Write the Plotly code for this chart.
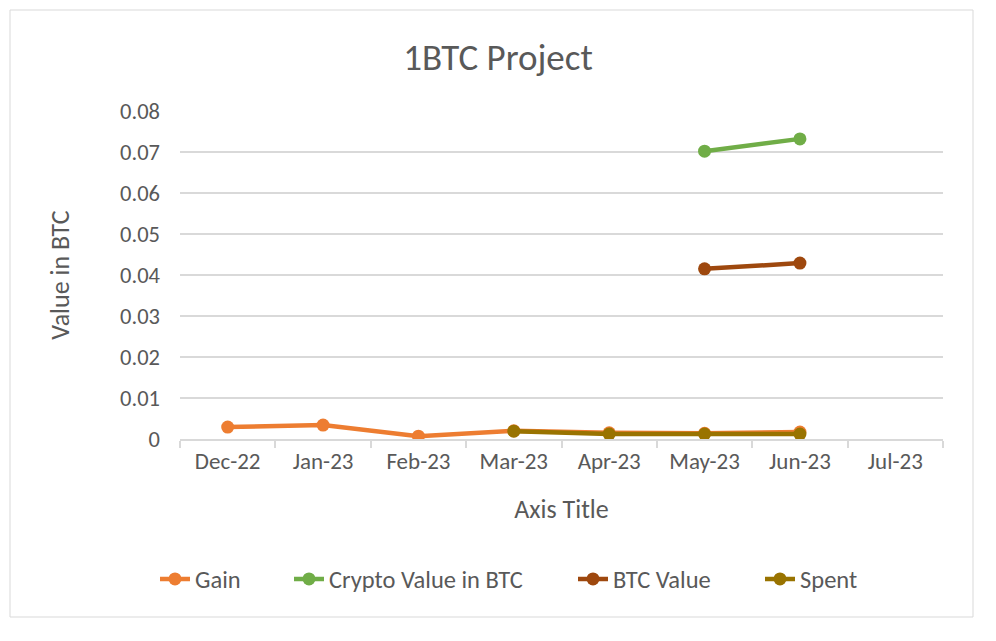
import plotly.graph_objects as go

months = ["Dec-22", "Jan-23", "Feb-23", "Mar-23", "Apr-23", "May-23", "Jun-23", "Jul-23"]
gain = [0.0029, 0.0034, 0.0007, 0.0020, 0.0015, 0.0014, 0.0017, None]
crypto = [None, None, None, None, None, 0.0702, 0.0732, None]
btc_value = [None, None, None, None, None, 0.0415, 0.0429, None]
spent = [None, None, None, 0.0019, 0.0012, 0.0012, 0.0012, None]

series = [
    ("Gain", gain, "#ED7D31"),
    ("Crypto Value in BTC", crypto, "#70AD47"),
    ("BTC Value", btc_value, "#9E480E"),
    ("Spent", spent, "#997300"),
]

font_family = "Carlito, Calibri, Lato, 'Open Sans', sans-serif"
grey = "#595959"

L, R, T, B = 180, 53, 111, 202
W, H = 996, 641
pw, ph = W - L - R, H - T - B

legend_px = [155, 289, 573, 760]  # left edge of each legend box in pixels

fig = go.Figure()
legends = {}
for i, (name, vals, color) in enumerate(series):
    lname = "legend" if i == 0 else f"legend{i+1}"
    fig.add_trace(go.Scatter(
        x=months, y=vals, name=name, mode="lines+markers",
        line=dict(color=color, width=4.5),
        marker=dict(color=color, size=13),
        connectgaps=False, legend=lname,
    ))
    legends[lname] = dict(orientation="h", x=(legend_px[i] - L) / pw, xanchor="left",
                          y=-(579 - 439) / ph, yanchor="middle",
                          font=dict(size=24.5, color=grey, family=font_family),
                          bgcolor="rgba(0,0,0,0)")

fig.update_layout(
    width=W, height=H,
    margin=dict(l=L, r=R, t=T, b=B),
    paper_bgcolor="white", plot_bgcolor="white",
    font=dict(family=font_family, color=grey, size=20),
    title=dict(text="1BTC Project", x=0.5, xanchor="center", y=1 - 57 / H, yanchor="middle",
               font=dict(size=37, color=grey)),
    showlegend=True,
    xaxis=dict(
        type="category", categoryorder="array", categoryarray=months,
        range=[-0.5, len(months) - 0.5],
        showgrid=False, showline=True, linecolor="#D9D9D9", linewidth=2,
        ticks="outside", tickson="boundaries", ticklen=7, tickcolor="#D9D9D9", tickwidth=2,
        tickfont=dict(size=23, color=grey),
        title=dict(text="Axis Title", font=dict(size=26, color=grey), standoff=26),
        zeroline=False,
    ),
    yaxis=dict(
        range=[0, 0.08], dtick=0.01, tickformat="~g",
        showgrid=True, gridcolor="#D9D9D9", gridwidth=1.5,
        showline=False, zeroline=False, ticks="",
        ticklabelstandoff=19,
        tickfont=dict(size=22.5, color=grey),
        title=dict(text="Value in BTC", font=dict(size=26, color=grey), standoff=42),
    ),
    shapes=[dict(type="rect", xref="paper", yref="paper",
                 x0=(10 - L) / pw, x1=(973 - L) / pw,
                 y0=-(617 - (H - B)) / ph, y1=1 + (T - 10) / ph,
                 line=dict(color="#D9D9D9", width=1), fillcolor="rgba(0,0,0,0)", layer="below")],
    **legends,
)

fig.write_html("out.html")
